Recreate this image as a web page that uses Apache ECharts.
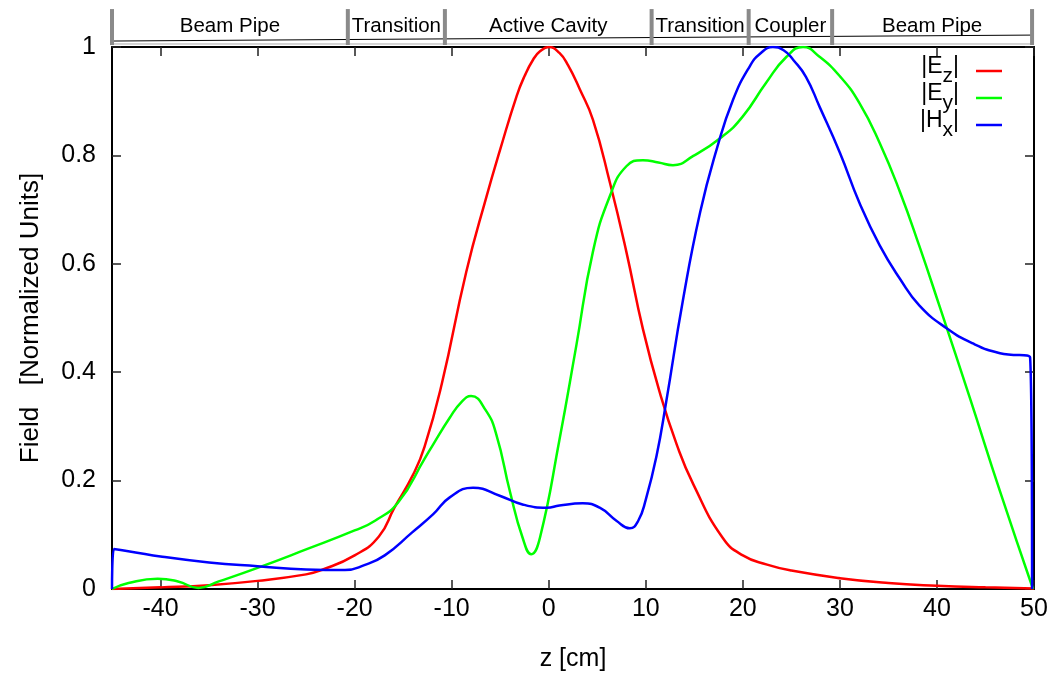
<!DOCTYPE html>
<html>
<head>
<meta charset="utf-8">
<script src="https://cdn.jsdelivr.net/npm/echarts@6/dist/echarts.min.js"></script>
<style>
html,body{margin:0;padding:0;background:#fff;}
#chart{width:1057px;height:677px;}
</style>
</head>
<body>
<div id="chart"></div>
<script>
// ---- data ----
const ezZ = [-45, -40, -35, -30, -25, -23.4, -20, -17.5, -15.9, -14, -12.8, -11, -8.5, -6.4, -5, -3.3, -2.5, -1.6, -0.9, 0, 1.1, 2.0, 3.2, 4.55, 6.3, 8.0, 9.7, 11.4, 13.2, 14.9, 17.9, 20, 22.5, 25, 30, 35, 40, 45, 50];
const ezV = [0.000, 0.003, 0.007, 0.015, 0.027, 0.035, 0.062, 0.097, 0.15, 0.21, 0.262, 0.38, 0.585, 0.725, 0.811, 0.910, 0.946, 0.977, 0.992, 1.0, 0.989, 0.966, 0.922, 0.866, 0.75, 0.622, 0.48, 0.365, 0.266, 0.193, 0.095, 0.062, 0.045, 0.034, 0.020, 0.011, 0.006, 0.003, 0.001];

const eyZ = [-45, -43.3, -40.3, -38.2, -36.1, -34, -30, -25, -20, -17.9, -15.5, -12.8, -11.9, -10.2, -9, -8, -6.5, -5.4, -4.0, -2.7, -1.8, -0.9, 1.1, 2.85, 4.55, 6.3, 8.0, 9.7, 11.3, 12.8, 14.9, 17.9, 20, 22.4, 24.5, 26.2, 27.9, 30, 32, 34.1, 36.2, 38.2, 40.3, 43.4, 46.5, 49.9];
const eyV = [0.0, 0.011, 0.019, 0.014, 0.002, 0.014, 0.039, 0.073, 0.108, 0.126, 0.16, 0.24, 0.267, 0.316, 0.345, 0.356, 0.33, 0.285, 0.18, 0.095, 0.064, 0.095, 0.275, 0.45, 0.622, 0.725, 0.78, 0.791, 0.787, 0.782, 0.799, 0.835, 0.872, 0.934, 0.982, 1.0, 0.982, 0.946, 0.897, 0.823, 0.732, 0.632, 0.52, 0.352, 0.18, 0.0];

const hxZ = [-45, -44.8, -40, -35, -30, -25, -21, -19, -16.9, -14.1, -11.9, -10.2, -7.8, -5.05, -2.7, -0.2, 1.1, 3.5, 5.25, 6.97, 8.35, 9.2, 10.0, 11.1, 12.1, 13.8, 15.6, 17.3, 19, 20.7, 21.8, 23.1, 24.2, 25.2, 26.5, 27.9, 30, 32, 34.1, 36.2, 38.2, 41, 43.7, 46.5, 49.6, 49.8];
const hxV = [0.0, 0.074, 0.060, 0.049, 0.042, 0.036, 0.035, 0.044, 0.062, 0.104, 0.138, 0.169, 0.187, 0.172, 0.156, 0.150, 0.154, 0.158, 0.150, 0.126, 0.112, 0.125, 0.165, 0.245, 0.345, 0.530, 0.695, 0.811, 0.903, 0.964, 0.988, 1.0, 0.994, 0.976, 0.945, 0.890, 0.805, 0.713, 0.634, 0.572, 0.523, 0.481, 0.453, 0.435, 0.427, 0.0];

const xTicks = [-40, -30, -20, -10, 0, 10, 20, 30, 40, 50];
const segEdges = [-45, -20.7, -10.7, 10.6, 20.6, 29.2, 49.8];
const segLabels = ['Beam Pipe', 'Transition', 'Active Cavity', 'Transition', 'Coupler', 'Beam Pipe'];
const headerLineZ = [-45, 50];
const headerLineV = [1.011, 1.022];

const pair = (z, v) => z.map((x, i) => [x, v[i]]);
const FONT = '"Liberation Sans", Arial, Helvetica, sans-serif';

const segData = segLabels.map((l, i) => [segEdges[i], segEdges[i + 1], i]);

const chart = echarts.init(document.getElementById('chart'), null, {renderer: 'canvas'});

const axisCommon = {
  axisLine: {show: true, onZero: false, lineStyle: {color: '#000', width: 2}},
  axisTick: {show: true, inside: true, length: 9, lineStyle: {color: '#222', width: 1.5}},
  splitLine: {show: false}
};

const legendFmt = {
  Ez: '{b||E}{s|z}{b||}{g| }',
  Ey: '{b||E}{s|y}{b||}{g| }',
  Hx: '{b||H}{s|x}{b||}{g| }'
};

const option = {
  animation: false,
  backgroundColor: '#fff',
  textStyle: {fontFamily: FONT, color: '#000'},
  grid: {left: 112, right: 23, top: 47, bottom: 85, containLabel: false},
  legend: {
    orient: 'vertical',
    right: 50,
    top: 50,
    align: 'right',
    icon: 'rect',
    itemWidth: 26,
    itemHeight: 2.5,
    itemGap: -5,
    selectedMode: false,
    data: ['Ez', 'Ey', 'Hx'],
    formatter: n => legendFmt[n],
    textStyle: {
      fontFamily: FONT,
      color: '#000',
      rich: {
        b: {fontSize: 23, lineHeight: 22, verticalAlign: 'top', fontFamily: FONT, color: '#000'},
        s: {fontSize: 21, lineHeight: 20, verticalAlign: 'bottom', fontFamily: FONT, color: '#000'},
        g: {width: 12, fontSize: 10, lineHeight: 32, verticalAlign: 'middle'}
      }
    }
  },
  xAxis: [
    Object.assign({}, axisCommon, {
      type: 'value', position: 'bottom', min: -45, max: 50, splitNumber: 10,
      name: 'z [cm]', nameLocation: 'middle', nameGap: 58,
      nameTextStyle: {fontSize: 25, fontFamily: FONT, color: '#000'},
      axisTick: Object.assign({}, axisCommon.axisTick, {customValues: xTicks}),
      axisLabel: {customValues: xTicks, fontSize: 25, margin: 8, color: '#000', fontFamily: FONT,
        formatter: v => (v % 10 === 0 ? String(v) : '')}
    }),
    Object.assign({}, axisCommon, {
      type: 'value', position: 'top', min: -45, max: 50, splitNumber: 10,
      axisTick: Object.assign({}, axisCommon.axisTick, {customValues: xTicks}),
      axisLabel: {show: false, customValues: xTicks}
    })
  ],
  yAxis: [
    Object.assign({}, axisCommon, {
      type: 'value', position: 'left', min: 0, max: 1, interval: 0.2,
      name: 'Field   [Normalized Units]', nameLocation: 'middle', nameGap: 68, nameRotate: 90,
      nameTextStyle: {fontSize: 26, fontFamily: FONT, color: '#000'},
      axisLabel: {fontSize: 25, margin: 16, color: '#000', fontFamily: FONT}
    }),
    Object.assign({}, axisCommon, {
      type: 'value', position: 'right', min: 0, max: 1, interval: 0.2,
      axisLabel: {show: false}
    })
  ],
  series: [
    {
      type: 'line', name: 'headerLine', silent: true, clip: false, symbol: 'none',
      data: pair(headerLineZ, headerLineV),
      lineStyle: {color: '#000', width: 1}, z: 1
    },
    {
      type: 'custom', name: 'header', silent: true, clip: false,
      data: segData,
      renderItem: function (params, api) {
        const s = api.value(0), e = api.value(1), idx = api.value(2);
        const b0 = api.coord([s, 1.0037]);
        const t0 = api.coord([s, 1.070]);
        const b1 = api.coord([e, 1.0037]);
        const t1 = api.coord([e, 1.070]);
        const c = api.coord([(s + e) / 2, 1.0385]);
        const children = [
          {type: 'line', shape: {x1: b0[0], y1: b0[1] - 1, x2: b1[0], y2: b1[1] - 1},
            style: {stroke: '#aaa', lineWidth: 1}},
          {type: 'rect', shape: {x: b0[0] - 2, y: t0[1], width: 4, height: b0[1] - t0[1]},
            style: {fill: '#8a8a8a'}},
          {type: 'text', x: c[0], y: c[1],
            style: {text: segLabels[idx], fontSize: 20.5, fontFamily: FONT, fill: '#000',
              align: 'center', verticalAlign: 'middle'}}
        ];
        if (idx === segLabels.length - 1) {
          children.push({type: 'rect', shape: {x: b1[0] - 2, y: t1[1], width: 4, height: b1[1] - t1[1]},
            style: {fill: '#8a8a8a'}});
        }
        return {type: 'group', children: children};
      },
      z: 3
    },
    {
      type: 'line', name: 'Ez', data: pair(ezZ, ezV), symbol: 'none', showSymbol: false,
      smooth: 0.5, color: '#ff0000', lineStyle: {color: '#ff0000', width: 2.5}, z: 5
    },
    {
      type: 'line', name: 'Ey', data: pair(eyZ, eyV), symbol: 'none', showSymbol: false,
      smooth: 0.5, color: '#00ff00', lineStyle: {color: '#00ff00', width: 2.5}, z: 5
    },
    {
      type: 'line', name: 'Hx', data: pair(hxZ, hxV), symbol: 'none', showSymbol: false,
      smooth: 0.5, color: '#0000ff', lineStyle: {color: '#0000ff', width: 2.5}, z: 5
    }
  ]
};
chart.setOption(option);
</script>
</body>
</html>
